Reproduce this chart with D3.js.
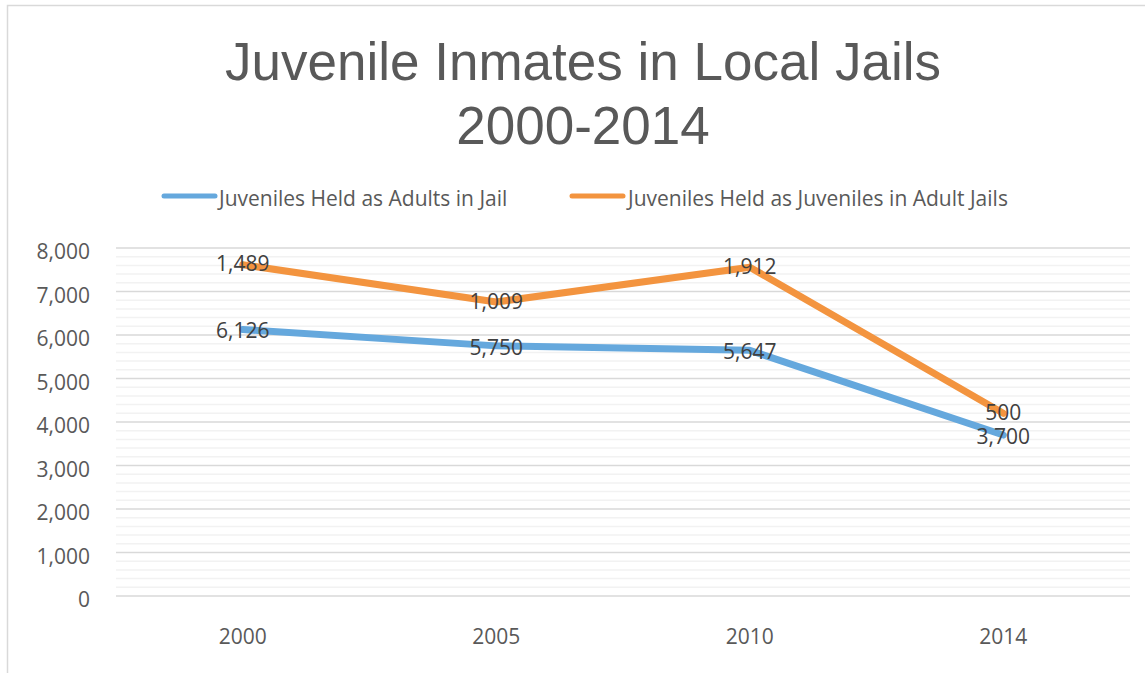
<!DOCTYPE html>
<html><head><meta charset="utf-8">
<script src="https://cdn.jsdelivr.net/npm/d3@7"></script>
<style>html,body{margin:0;padding:0;background:#fff;}svg{display:block;}</style>
</head><body>
<svg id="c" width="1145" height="673"></svg>
<script>
const years = ["2000", "2005", "2010", "2014"];
const adultsHeld = [6126, 5750, 5647, 3700];
const juvenilesHeld = [1489, 1009, 1912, 500];
const seriesNames = ["Juveniles Held as Adults in Jail", "Juveniles Held as Juveniles in Adult Jails"];
const seriesColors = ["#65A8DD", "#F3943F"];
const yTicks = [0, 1000, 2000, 3000, 4000, 5000, 6000, 7000, 8000];

const svg = d3.select("#c");
const font = "'Open Sans', Lato, sans-serif";

// border
svg.append("rect").attr("x", 7.5).attr("y", 5.5).attr("width", 1145).attr("height", 680)
  .attr("fill", "none").attr("stroke", "#D9D9D9").attr("stroke-width", 1.5);

const pL = 116, pR = 1130, pT = 248, pB = 596;
const x = d3.scaleBand().domain(years).range([pL, pR]);
const y = d3.scaleLinear().domain([0, 8000]).range([pB, pT]);

// minor gridlines
const minor = d3.range(0, 8001, 200).filter(v => v % 1000 !== 0);
svg.append("g").selectAll("line").data(minor).join("line")
  .attr("x1", pL).attr("x2", pR).attr("y1", d => y(d)).attr("y2", d => y(d))
  .attr("stroke", "#F2F2F2").attr("stroke-width", 1.5);
// major gridlines
svg.append("g").selectAll("line").data(yTicks).join("line")
  .attr("x1", pL).attr("x2", pR).attr("y1", d => y(d)).attr("y2", d => y(d))
  .attr("stroke", "#D9D9D9").attr("stroke-width", 1.5);

// y axis labels
const yAxis = d3.axisLeft(y).tickValues(yTicks).tickFormat(d3.format(",")).tickSize(0).tickPadding(0);
const gy = svg.append("g").attr("transform", `translate(${pL - 26},0)`).call(yAxis);
gy.select(".domain").remove();
gy.selectAll("text").attr("font-family", font).attr("font-size", 21).attr("fill", "#595959").attr("dy", "0.5em");

// x axis labels
const xAxis = d3.axisBottom(x).tickSize(0).tickPadding(0);
const gx = svg.append("g").attr("transform", `translate(0,${pB + 33})`).call(xAxis);
gx.select(".domain").remove();
gx.selectAll("text").attr("font-family", font).attr("font-size", 21).attr("fill", "#595959").attr("dy", "0.7em");

// stacked data
const stack1 = years.map((yr, i) => ({yr, v: adultsHeld[i], label: adultsHeld[i]}));
const stack2 = years.map((yr, i) => ({yr, v: adultsHeld[i] + juvenilesHeld[i], label: juvenilesHeld[i]}));
const line = d3.line().x(d => x(d.yr) + x.bandwidth() / 2).y(d => y(d.v));

[stack1, stack2].forEach((data, k) => {
  svg.append("path").datum(data).attr("d", line).attr("fill", "none")
    .attr("stroke", seriesColors[k]).attr("stroke-width", 7).attr("stroke-linejoin", "round").attr("stroke-linecap", "round");
});
[stack1, stack2].forEach((data, k) => {
  svg.append("g").selectAll("text").data(data).join("text")
    .attr("x", d => x(d.yr) + x.bandwidth() / 2).attr("y", d => y(d.v))
    .attr("dy", k === 1 ? "0.32em" : "0.42em").attr("text-anchor", "middle")
    .attr("font-family", font).attr("font-size", 21).attr("fill", "#404040")
    .text(d => d3.format(",")(d.label));
});

// legend
const legendItems = [{x: 164, tx: 219}, {x: 572, tx: 628}];
legendItems.forEach((it, k) => {
  svg.append("line").attr("x1", it.x).attr("x2", it.x + 51).attr("y1", 196).attr("y2", 196)
    .attr("stroke", seriesColors[k]).attr("stroke-width", 5).attr("stroke-linecap", "round");
  svg.append("text").attr("x", it.tx).attr("y", 198).attr("dy", "0.36em")
    .attr("font-family", font).attr("font-size", 21).attr("fill", "#595959").text(seriesNames[k]);
});

// title
const title = svg.append("text").attr("text-anchor", "middle").attr("font-family", "'Liberation Sans', Arial, sans-serif")
  .attr("font-size", 53).attr("fill", "#595959");
title.append("tspan").attr("x", 583).attr("y", 80).text("Juvenile Inmates in Local Jails");
title.append("tspan").attr("x", 583).attr("y", 144).text("2000-2014");
</script>
</body></html>
